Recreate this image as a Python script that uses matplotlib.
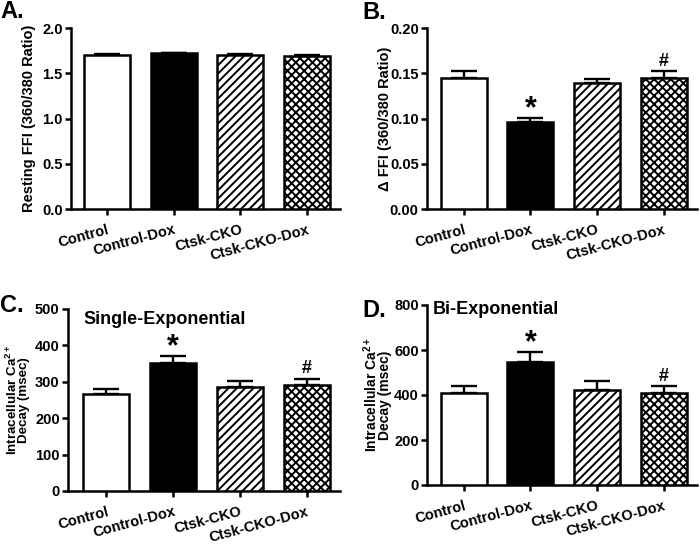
import matplotlib
matplotlib.use("Agg")
import matplotlib.pyplot as plt

plt.rcParams['font.family'] = ['Liberation Sans', 'DejaVu Sans']
plt.rcParams['font.weight'] = 'bold'
plt.rcParams['hatch.linewidth'] = 1.4
plt.rcParams['mathtext.fontset'] = 'custom'
plt.rcParams['mathtext.rm'] = 'Liberation Sans:bold'
plt.rcParams['mathtext.bf'] = 'Liberation Sans:bold'
plt.rcParams['mathtext.it'] = 'Liberation Sans:bold'

groups = ["Control", "Control-Dox", "Ctsk-CKO", "Ctsk-CKO-Dox"]

resting_ffi = [1.705, 1.72, 1.705, 1.694]
resting_err = [0.004, 0.005, 0.004, 0.004]

delta_ffi = [0.145, 0.096, 0.139, 0.145]
delta_err = [0.007, 0.005, 0.005, 0.007]

single_exp = [266, 351, 285, 290]
single_err = [15, 21, 16, 18]

bi_exp = [407, 548, 422, 410]
bi_err = [33, 44, 40, 30]

delta_marks = ["", "*", "", "#"]
single_marks = ["", "*", "", "#"]
bi_marks = ["", "*", "", "#"]

faces = ["white", "black", "white", "white"]
hatches = [None, None, "////", "xxxx"]

fig = plt.figure(figsize=(7, 5.49), dpi=100)

def panel(rect, vals, errs, ylim, yticks, yticklabels, ylabel, ylabel_x, xlim_left,
          letter, letter_xy, marks=None, title=None, title_xy=None, ylabel_size=10,
          linespacing=0.95):
    ax = fig.add_axes(rect)
    x = list(range(len(groups)))
    ax.errorbar(x, vals, yerr=[[0]*len(errs), errs], fmt='none', ecolor='black',
                elinewidth=1.7, capsize=9.5, capthick=1.7, zorder=2)
    bars = ax.bar(x, vals, width=0.69, color=faces, edgecolor='black', linewidth=1.8,
                  zorder=3)
    for b, h in zip(bars, hatches):
        if h:
            b.set_hatch(h)
    ax.set_xlim(xlim_left, 3.5)
    ax.set_ylim(*ylim)
    ax.set_yticks(yticks)
    ax.set_yticklabels(yticklabels, fontsize=10.5, fontweight='bold')
    ax.set_xticks(x)
    ax.set_xticklabels(groups, rotation=15, ha='right', rotation_mode='anchor',
                       fontsize=10.5, fontweight='bold')
    for s in ['top', 'right']:
        ax.spines[s].set_visible(False)
    for s in ['left', 'bottom']:
        ax.spines[s].set_linewidth(1.8)
    ax.tick_params(axis='both', direction='out', length=4, width=1.8, pad=2)
    ax.tick_params(axis='x', pad=6)
    ax.set_ylabel(ylabel, fontsize=ylabel_size, fontweight='bold', linespacing=linespacing)
    ax.yaxis.set_label_coords(ylabel_x, 0.5)
    fig.text(letter_xy[0], letter_xy[1], letter, fontsize=17, fontweight='bold',
             ha='left', va='top')
    if title:
        ax.text(title_xy[0], title_xy[1], title, transform=ax.transAxes,
                fontsize=13, fontweight='bold', ha='left', va='center')
    if marks:
        for i, m in enumerate(marks):
            if m:
                size = 22 if m == '*' else 13
                off = -5 if m == '*' else 1
                ax.annotate(m, (i, vals[i] + errs[i]), xytext=(0, off),
                            textcoords='offset points', ha='center', va='bottom',
                            fontsize=size, fontweight='bold')
    return ax

ca_label = "Intracellular Ca$^{2+}$\nDecay (msec)"

panel([71/700, 1-209/549, 269/700, 181/549], resting_ffi, resting_err, (0, 2.0),
      [0, 0.5, 1.0, 1.5, 2.0], ["0.0", "0.5", "1.0", "1.5", "2.0"],
      "Resting FFI (360/380 Ratio)", -0.13, -0.54, "A.", (0.0, 1-0/549),
      ylabel_size=10.5)

panel([427/700, 1-209/549, 270/700, 181/549], delta_ffi, delta_err, (0, 0.20),
      [0, 0.05, 0.10, 0.15, 0.20], ["0.00", "0.05", "0.10", "0.15", "0.20"],
      "\u0394 FFI (360/380 Ratio)", -0.13, -0.55, "B.", (362/700, 1-1/549),
      marks=delta_marks, ylabel_size=10.5)

panel([68/700, 1-491/549, 272/700, 182/549], single_exp, single_err, (0, 500),
      [0, 100, 200, 300, 400, 500], ["0", "100", "200", "300", "400", "500"],
      ca_label, -0.138, -0.576, "C.",
      (0.0, 1-294/549), marks=single_marks, title="Single-Exponential",
      title_xy=(0.055, 0.942), ylabel_size=9.6, linespacing=0.85)

panel([427/700, 1-485/549, 270/700, 180/549], bi_exp, bi_err, (0, 800),
      [0, 200, 400, 600, 800], ["0", "200", "400", "600", "800"],
      ca_label, -0.13, -0.55, "D.",
      (362/700, 1-299/549), marks=bi_marks, title="Bi-Exponential",
      title_xy=(0.022, 0.975), ylabel_size=10, linespacing=0.85)

fig.savefig("out.png", dpi=100)
